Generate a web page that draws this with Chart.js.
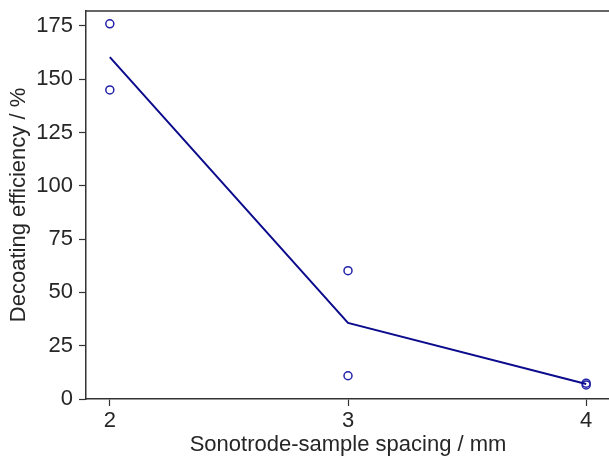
<!DOCTYPE html>
<html>
<head>
<meta charset="utf-8">
<script src="https://cdn.jsdelivr.net/npm/chart.js@4/dist/chart.umd.min.js"></script>
<style>
  html, body { margin: 0; padding: 0; background: #fff; overflow: hidden; }
  #wrap { width: 609px; height: 458px; overflow: hidden; }
</style>
</head>
<body>
<div id="wrap"><canvas id="chart" width="620" height="458"></canvas></div>
<script>
// spacing in mm
const spacing = [2, 3, 4];
// two measurements per spacing
const runA = [176, 60.2, 7.4];
const runB = [145, 10.9, 6.6];
// line through the averages
const meanLine = [160.4, 35.7, 7.0];

const xTicks = [2, 3, 4];
const yTicks = [0, 25, 50, 75, 100, 125, 150, 175];

const toPoints = (ys) => spacing.map((x, i) => ({ x: x, y: ys[i] }));

const ink = '#262626';
const font = { family: '"Liberation Sans", Arial, sans-serif', size: 22 };

const topSpine = {
  id: 'topSpine',
  afterDraw(chart) {
    const a = chart.chartArea;
    const ctx = chart.ctx;
    ctx.save();
    ctx.strokeStyle = '#333';
    ctx.lineWidth = 1.5;
    ctx.beginPath();
    ctx.moveTo(a.left, a.top);
    ctx.lineTo(a.right, a.top);
    ctx.stroke();
    ctx.restore();
  }
};

new Chart(document.getElementById('chart'), {
  type: 'scatter',
  data: {
    datasets: [
      {
        data: toPoints(meanLine),
        showLine: true,
        borderColor: '#0b0b8c',
        borderWidth: 2,
        pointRadius: 0,
        fill: false
      },
      {
        data: toPoints(runA),
        pointRadius: 4,
        pointBorderWidth: 1.5,
        pointBorderColor: '#2222a8',
        pointBackgroundColor: 'rgba(0,0,0,0)'
      },
      {
        data: toPoints(runB),
        pointRadius: 4,
        pointBorderWidth: 1.5,
        pointBorderColor: '#2222a8',
        pointBackgroundColor: 'rgba(0,0,0,0)'
      }
    ]
  },
  options: {
    responsive: false,
    animation: false,
    devicePixelRatio: 1,
    layout: { padding: { top: 11, right: 10, left: 0, bottom: 0 } },
    plugins: { legend: { display: false }, tooltip: { enabled: false } },
    scales: {
      x: {
        type: 'linear',
        min: 1.9,
        max: 4.1,
        afterBuildTicks: (axis) => { axis.ticks = xTicks.map(v => ({ value: v })); },
        afterFit: (axis) => { axis.height = 59; axis.paddingLeft = 0; axis.paddingRight = 0; },
        grid: { drawOnChartArea: false, drawTicks: true, tickLength: 7, tickWidth: 1.2, tickColor: '#333' },
        border: { display: true, color: '#333', width: 1.5 },
        ticks: { color: ink, font: font, padding: 2, maxRotation: 0 },
        title: {
          display: true,
          text: 'Sonotrode-sample spacing / mm',
          color: ink,
          font: font,
          padding: { top: 0, bottom: 0 }
        }
      },
      y: {
        type: 'linear',
        min: 0,
        max: 182,
        afterBuildTicks: (axis) => { axis.ticks = yTicks.map(v => ({ value: v })); },
        afterFit: (axis) => { axis.width = 86; axis.paddingTop = 0; axis.paddingBottom = 0; },
        grid: { drawOnChartArea: false, drawTicks: true, tickLength: 7, tickWidth: 1.2, tickColor: '#333' },
        border: { display: true, color: '#333', width: 1.5 },
        ticks: { color: ink, font: font, padding: 6 },
        title: {
          display: true,
          text: 'Decoating efficiency / %',
          color: ink,
          font: font,
          padding: { top: 6, bottom: 0 }
        }
      }
    }
  },
  plugins: [topSpine]
});
</script>
</body>
</html>
